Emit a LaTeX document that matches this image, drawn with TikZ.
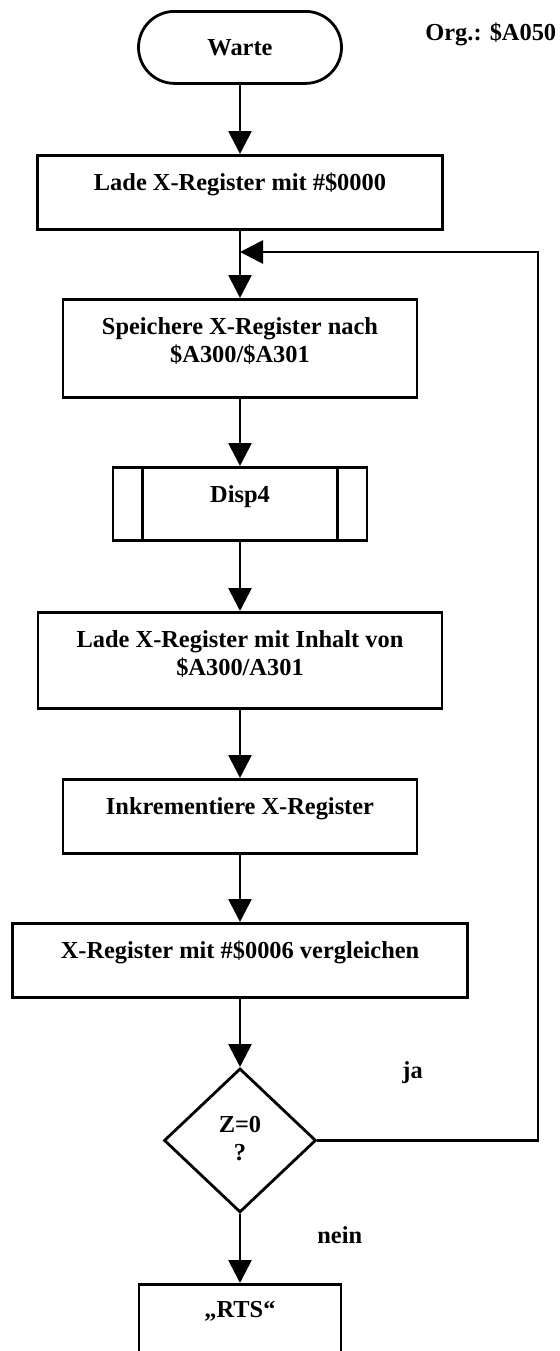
\documentclass[tikz,border=0pt]{standalone}
\usepackage{fontspec}
\setmainfont{Liberation Serif}
\usetikzlibrary{arrows.meta,shapes.geometric}
\begin{document}
\begin{tikzpicture}[x=0.5pt,y=-0.5pt,
  every node/.style={font=\fontsize{12.2}{14}\selectfont\bfseries},
  stepbox/.style={draw, line width=1.4pt, inner sep=0pt, anchor=north},
  boxtext/.style={inner sep=0pt, align=center, anchor=north},
  flow/.style={line width=1.4pt, -{Triangle[length=11.5pt,width=11.5pt]}},
]
\useasboundingbox (0,0) rectangle (559,1351);
\clip (0,0) rectangle (559,1351);

% start terminal and origin address
\node[stepbox, rounded corners=18pt, minimum width=101.5pt, minimum height=36pt] (warte) at (240,10) {Warte};
\node[anchor=base west, inner sep=0pt] (org) at (425,40) {Org.: \$A050};

% process steps
\node[stepbox, minimum width=202.5pt, minimum height=37pt] (lade1) at (240,154) {};
\node[boxtext] (lade1t) at ([yshift=-8.2pt]lade1.north) {\strut Lade X-Register mit \#\$0000};

\node[stepbox, minimum width=177pt, minimum height=49pt] (speich) at (240,298) {};
\node[boxtext] (speicht) at ([yshift=-8.2pt]speich.north) {\strut Speichere X-Register nach\\\$A300/\$A301};

% subroutine call
\node[stepbox, minimum width=127pt, minimum height=36.5pt] (disp) at (240,466) {};
\draw[line width=1.4pt] ([xshift=15.5pt]disp.north west) -- ([xshift=15.5pt]disp.south west);
\draw[line width=1.4pt] ([xshift=-15.5pt]disp.north east) -- ([xshift=-15.5pt]disp.south east);
\node[boxtext] (dispt) at ([yshift=-8.2pt]disp.north) {\strut Disp4};

\node[stepbox, minimum width=202pt, minimum height=48pt] (lade2) at (240,611) {};
\node[boxtext] (lade2t) at ([yshift=-8.2pt]lade2.north) {\strut Lade X-Register mit Inhalt von\\\$A300/A301};

\node[stepbox, minimum width=177pt, minimum height=37pt] (inkr) at (240,778) {};
\node[boxtext] (inkrt) at ([yshift=-8.2pt]inkr.north) {\strut Inkrementiere X-Register};

\node[stepbox, minimum width=227.5pt, minimum height=37pt] (verg) at (240,922) {};
\node[boxtext] (vergt) at ([yshift=-8.2pt]verg.north) {\strut X-Register mit \#\$0006 vergleichen};

% decision
\node[draw, diamond, line width=1.4pt, inner sep=0pt, minimum width=76pt, minimum height=72pt, anchor=north] (zq) at (240,1067) {};
\node[boxtext] (zqt) at ([yshift=13.8pt]zq.center) {\strut Z=0\\?};
\node[anchor=base west, inner sep=0pt] (ja) at (402,1078) {ja};
\node[anchor=base west, inner sep=0pt] (nein) at (317,1243) {nein};

% return
\node[stepbox, minimum width=101pt, minimum height=50pt] (rts) at (240,1283) {};
\node[boxtext] (rtst) at ([yshift=-7pt]rts.north) {\strut „RTS“};

% main flow
\draw[flow] (warte) -- (lade1);
\draw[flow] (lade1) -- (speich);
\draw[flow] (speich) -- (disp);
\draw[flow] (disp) -- (lade2);
\draw[flow] (lade2) -- (inkr);
\draw[flow] (inkr) -- (verg);
\draw[flow] (verg) -- (zq);
\draw[flow] (zq) -- (rts);

% loop back on "ja"
\coordinate (merge) at (240,252);
\coordinate (loopR) at (538,252);
\draw[flow] (zq.east) -| (loopR) -- (merge);
\end{tikzpicture}
\end{document}
